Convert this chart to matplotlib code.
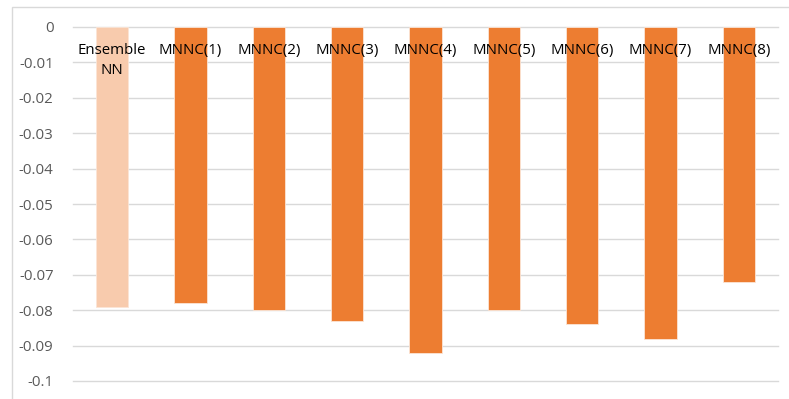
import matplotlib
matplotlib.use("Agg")
import matplotlib.pyplot as plt
from matplotlib.patches import Rectangle

categories = ["Ensemble\nNN", "MNNC(1)", "MNNC(2)", "MNNC(3)", "MNNC(4)",
              "MNNC(5)", "MNNC(6)", "MNNC(7)", "MNNC(8)"]
values = [-0.079, -0.078, -0.080, -0.083, -0.092, -0.080, -0.084, -0.088, -0.072]
yticks = [0, -0.01, -0.02, -0.03, -0.04, -0.05, -0.06, -0.07, -0.08, -0.09, -0.1]
ytick_labels = ["0", "-0.01", "-0.02", "-0.03", "-0.04", "-0.05", "-0.06",
                "-0.07", "-0.08", "-0.09", "-0.1"]

plt.rcParams["font.family"] = ["Open Sans", "DejaVu Sans"]

fig = plt.figure(figsize=(7.89, 3.99), dpi=100)
ax = fig.add_axes([73 / 789, 1 - 381 / 399, 705 / 789, (381 - 27) / 399])

# chart frame
fig.patches.append(Rectangle((12 / 789, -0.1), 1.2, (399 - 7) / 399 + 0.1,
                             transform=fig.transFigure, fill=False,
                             edgecolor="#d9d9d9", linewidth=1.0))

colors = ["#f8cbad"] + ["#ed7d31"] * (len(values) - 1)
x = list(range(len(categories)))
ax.bar(x, values, width=0.41, color=colors, edgecolor="#fbe5d6",
       linewidth=0.6, zorder=3)

for i, lab in enumerate(categories):
    ax.text(i, -0.0046, lab, ha="center", va="top", fontsize=10.8,
            color="#000000", linespacing=1.45, zorder=4)

ax.set_xlim(-0.5, len(categories) - 0.5)
ax.set_ylim(-0.1, 0)
ax.set_yticks(yticks)
ax.set_yticklabels(ytick_labels, fontsize=10.8, color="#595959")
ax.set_xticks([])
ax.tick_params(axis="y", length=0, pad=14)
ax.grid(axis="y", color="#d9d9d9", linewidth=1.0, zorder=0)
for gl in ax.get_ygridlines():
    gl.set_clip_on(False)
for s in ax.spines.values():
    s.set_visible(False)

fig.savefig("out.png", dpi=100)
